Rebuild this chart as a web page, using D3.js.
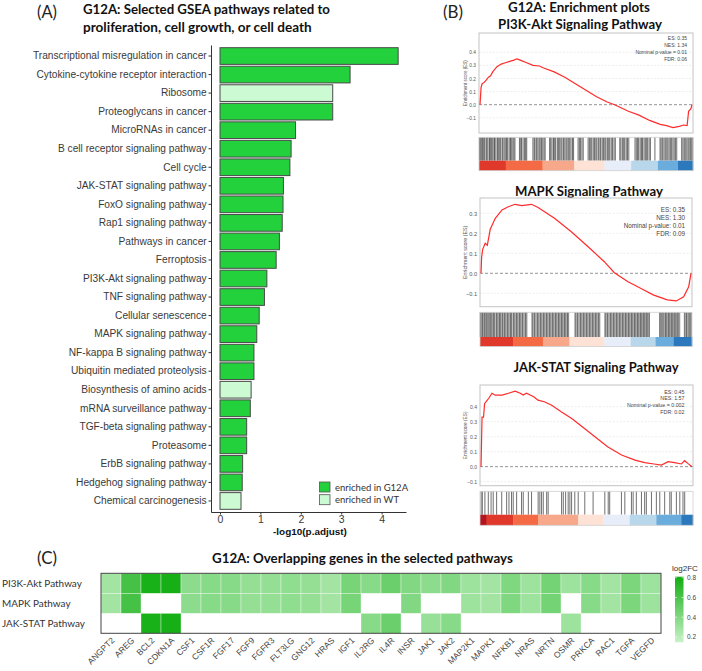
<!DOCTYPE html>
<html><head><meta charset="utf-8">
<script src="https://cdn.jsdelivr.net/npm/d3@7"></script>
<style>body{margin:0;background:#fff}svg{display:block}</style>
</head><body>
<svg id="c" width="702" height="671"></svg>
<script>
// ---------------- DATA ----------------
const pathways = ["Transcriptional misregulation in cancer","Cytokine-cytokine receptor interaction","Ribosome","Proteoglycans in cancer","MicroRNAs in cancer","B cell receptor signaling pathway","Cell cycle","JAK-STAT signaling pathway","FoxO signaling pathway","Rap1 signaling pathway","Pathways in cancer","Ferroptosis","PI3K-Akt signaling pathway","TNF signaling pathway","Cellular senescence","MAPK signaling pathway","NF-kappa B signaling pathway","Ubiquitin mediated proteolysis","Biosynthesis of amino acids","mRNA surveillance pathway","TGF-beta signaling pathway","Proteasome","ErbB signaling pathway","Hedgehog signaling pathway","Chemical carcinogenesis"];
const negLogPadj = [4.41,3.22,2.79,2.79,1.87,1.76,1.73,1.57,1.56,1.54,1.47,1.39,1.16,1.10,0.97,0.91,0.84,0.84,0.77,0.75,0.66,0.66,0.56,0.55,0.52];
const enrichedIn = ["G12A","G12A","WT","G12A","G12A","G12A","G12A","G12A","G12A","G12A","G12A","G12A","G12A","G12A","G12A","G12A","G12A","G12A","WT","G12A","G12A","G12A","G12A","G12A","WT"];
const xTicksA = [0,1,2,3,4];
const legendA = ["enriched in G12A","enriched in WT"];

// GSEA running enrichment score curves: [rank fraction, ES]
const pi3kCurve = [[0,0],[0.005,0.13],[0.01,0.16],[0.02,0.17],[0.03,0.19],[0.04,0.21],[0.05,0.22],[0.06,0.25],[0.08,0.29],[0.10,0.31],[0.12,0.32],[0.14,0.33],[0.16,0.34],[0.174,0.35],[0.19,0.34],[0.22,0.32],[0.25,0.30],[0.28,0.295],[0.30,0.28],[0.35,0.25],[0.40,0.21],[0.45,0.16],[0.50,0.11],[0.55,0.06],[0.60,0.02],[0.635,0.0],[0.70,-0.05],[0.75,-0.08],[0.80,-0.12],[0.85,-0.15],[0.88,-0.16],[0.91,-0.175],[0.94,-0.165],[0.96,-0.155],[0.977,-0.16],[0.984,-0.05],[0.995,-0.03],[1,0]];
const mapkCurve = [[0,0],[0.003,0.08],[0.008,0.12],[0.02,0.15],[0.03,0.14],[0.044,0.22],[0.068,0.275],[0.10,0.317],[0.13,0.333],[0.162,0.345],[0.194,0.338],[0.24,0.345],[0.27,0.33],[0.35,0.275],[0.43,0.208],[0.51,0.133],[0.587,0.058],[0.635,0.003],[0.70,-0.042],[0.76,-0.075],[0.82,-0.108],[0.887,-0.133],[0.93,-0.138],[0.965,-0.117],[0.989,-0.067],[1,0]];
const jakCurve = [[0,0],[0.002,0.13],[0.005,0.33],[0.012,0.33],[0.017,0.42],[0.028,0.44],[0.036,0.455],[0.052,0.49],[0.068,0.477],[0.10,0.477],[0.13,0.49],[0.162,0.504],[0.186,0.49],[0.20,0.478],[0.215,0.49],[0.25,0.467],[0.27,0.444],[0.30,0.433],[0.335,0.41],[0.38,0.367],[0.43,0.322],[0.477,0.27],[0.54,0.20],[0.60,0.133],[0.666,0.078],[0.73,0.044],[0.776,0.027],[0.82,0.018],[0.855,0.011],[0.887,0.033],[0.918,0.027],[0.95,0.018],[0.965,0.04],[0.98,0.022],[1,0]];
const pi3kTicks = [-0.1,0,0.1,0.2,0.3,0.4];
const mapkTicks = [-0.1,0,0.1,0.2,0.3];
const jakTicks = [-0.1,0,0.1,0.2,0.3,0.4];
const pi3kStats = ["ES: 0.35","NES: 1.34","Nominal p-value = 0.01","FDR: 0.06"];
const mapkStats = ["ES: 0.35","NES: 1.30","Nominal p-value: 0.01","FDR: 0.09"];
const jakStats = ["ES: 0.45","NES: 1.57","Nominal p-value = 0.002","FDR: 0.02"];
// gene-set hit positions along the ranked list (per mille)
const pi3kHits = [2,6,11,17,20,26,33,37,42,49,53,58,64,70,73,79,86,90,95,101,108,112,118,125,129,134,141,147,151,158,163,168,189,195,199,206,213,218,223,252,258,262,269,275,281,286,292,298,304,309,330,335,341,348,352,358,366,371,377,383,388,395,401,407,412,419,424,430,437,442,463,469,474,481,487,510,516,522,527,534,540,546,551,558,565,569,576,582,588,593,600,606,611,618,624,631,637,658,663,670,676,681,688,694,700,729,735,741,746,753,759,764,771,777,782,788,795,801,822,846,851,857,864,870,875,882,888,894,899,906,912,918,924,947,953,959,964,971,977,982,988,994,999];
const mapkHits = [1,4,9,12,18,21,27,30,35,41,44,50,53,58,64,67,71,78,81,86,92,95,99,105,108,114,117,122,128,131,136,142,145,149,156,159,164,170,173,178,184,187,192,198,201,207,213,216,221,245,249,255,258,264,270,273,278,284,287,292,298,301,306,312,315,320,326,329,334,340,343,348,354,357,362,368,371,376,382,385,390,396,399,404,410,413,418,448,452,458,461,467,473,476,481,487,490,495,501,504,509,515,518,523,529,532,537,543,546,551,557,560,565,589,593,599,602,608,614,617,622,628,631,636,642,645,650,656,659,664,670,673,678,684,687,692,698,701,706,712,715,720,726,729,734,740,743,748,754,757,762,768,771,776,782,785,790,796,799,847,851,857,860,866,872,875,880,886,889,894,900,903,908,914,917,922,928,931,936,942,964,968,974,977,983,989,992,997];
const jakHits = [5,11,23,39,52,62,78,102,125,136,148,156,172,195,203,227,242,273,281,289,297,313,320,383,391,402,414,422,430,445,461,492,531,586,602,609,664,680,711,719,734,758,773,781,805,828,844,867,891,898,922,938,953,961];
// ranked-list metric strip: block boundaries and colours
const pi3kBreaks = [0,0.125,0.297,0.445,0.586,0.711,0.836,0.93,1];
const mapkBreaks = [0,0.156,0.297,0.422,0.586,0.711,0.828,0.914,1];
const jakBreaks = [0,0.031,0.156,0.273,0.461,0.578,0.703,0.828,0.945,1];
const stripColors8 = ["#e0392b","#f46a45","#f8a88a","#fde2d5","#e8eef9","#b8d7ea","#6aaddc","#2b78bd"];
const stripColors9 = ["#b3141e","#e0392b","#f46a45","#f8a88a","#fde2d5","#e8eef9","#b8d7ea","#6aaddc","#2b78bd"];

// heatmap
const genes = ["ANGPT2","AREG","BCL2","CDKN1A","CSF1","CSF1R","FGF17","FGF9","FGFR3","FLT3LG","GNG12","HRAS","IGF1","IL2RG","IL4R","INSR","JAK1","JAK2","MAP2K1","MAPK1","NFKB1","NRAS","NRTN","OSMR","PRKCA","RAC1","TGFA","VEGFD"];
const hmRows = ["PI3K-Akt Pathway","MAPK Pathway","JAK-STAT Pathway"];
const pi3kFC = [0.28,0.62,0.78,0.79,0.36,0.38,0.38,0.33,0.33,0.35,0.33,0.28,0.44,0.38,0.48,0.40,0.36,0.40,0.30,0.28,0.41,0.30,0.45,0.30,0.38,0.28,0.42,0.30];
const mapkFC = [0.28,0.62,null,null,0.36,0.38,0.38,0.33,0.33,0.35,0.33,0.28,0.44,null,null,0.40,null,null,0.30,0.28,0.41,0.30,0.45,null,0.38,0.28,0.42,0.30];
const jakFC  = [null,null,0.78,0.79,null,null,null,null,null,null,null,null,null,0.38,0.48,null,0.32,0.38,null,null,null,null,null,0.30,null,null,null,null];
const fcLegendTicks = [0.2,0.4,0.6,0.8];

// ---------------- DRAW ----------------
const svg = d3.select("#c");
function fit(t, w){ const fs=parseFloat(t.attr("font-size")); const l=t.node().getComputedTextLength(); t.attr("font-size", fs*w/l); return t; }
const calib = "Lato, 'Open Sans', sans-serif";
const arial = "'Liberation Sans', Arial, sans-serif";

// ===== Panel A =====
fit(svg.append("text").attr("x",37).attr("y",18).attr("font-family",calib).attr("font-size",17).attr("fill","#222").text("(A)"),20);
fit(svg.append("text").attr("x",83).attr("y",13.5).attr("font-family",calib).attr("font-weight","bold").attr("font-size",15).attr("fill","#111").text("G12A: Selected GSEA pathways related to"),247);
fit(svg.append("text").attr("x",83).attr("y",31.5).attr("font-family",calib).attr("font-weight","bold").attr("font-size",15).attr("fill","#111").text("proliferation, cell growth, or cell death"),229);

const yA = d3.scaleBand().domain(pathways).range([45,512]).paddingInner(0.1).paddingOuter(0.145);
const xA = d3.scaleLinear().domain([-0.223,4.604]).range([211,406]);
const colA = {G12A:"#22d13c", WT:"#ccfad3"};

const gA = svg.append("g");
gA.selectAll("rect.bar").data(pathways).join("rect").attr("class","bar")
  .attr("x",xA(0)).attr("y",d=>yA(d)).attr("height",yA.bandwidth())
  .attr("width",(d,i)=>xA(negLogPadj[i])-xA(0))
  .attr("fill",(d,i)=>colA[enrichedIn[i]]).attr("stroke","#4a4a4a").attr("stroke-width",1);

const axY = gA.append("g").attr("transform","translate(211,0)").call(d3.axisLeft(yA).tickSize(2.5).tickPadding(1.8).tickSizeOuter(0));
axY.select(".domain").attr("stroke","#333");
axY.selectAll(".tick line").attr("stroke","#333");
axY.selectAll("text").attr("font-family",arial).attr("fill","#3a3a3a").attr("font-size",10);
{ const t = axY.select(".tick text"); const l=t.node().getComputedTextLength(); axY.selectAll("text").attr("font-size",10*174/l); }

const axX = gA.append("g").attr("transform","translate(0,512)").call(d3.axisBottom(xA).tickValues(xTicksA).tickFormat(d3.format("d")).tickSize(2.5).tickPadding(1.5).tickSizeOuter(0));
axX.select(".domain").attr("stroke","#333");
axX.selectAll(".tick line").attr("stroke","#333");
axX.selectAll("text").attr("font-family",arial).attr("fill","#3a3a3a").attr("font-size",10.5);
fit(svg.append("text").attr("x",310).attr("y",535).attr("text-anchor","middle").attr("font-family",arial).attr("font-weight","bold").attr("font-size",10.5).attr("fill","#111").text("-log10(p.adjust)"),74);

const lgA = svg.append("g");
lgA.selectAll("rect").data(legendA).join("rect").attr("x",319.5).attr("y",(d,i)=>482+i*12.7).attr("width",10.5).attr("height",10).attr("fill",(d,i)=>i?colA.WT:colA.G12A).attr("stroke","#555").attr("stroke-width",0.8);
lgA.selectAll("text").data(legendA).join("text").attr("x",335).attr("y",(d,i)=>490.5+i*12.7).attr("font-family",calib).attr("font-size",9.5).attr("fill","#333").text(d=>d);

// ===== Panel B =====
fit(svg.append("text").attr("x",443).attr("y",18).attr("font-family",calib).attr("font-size",17).attr("fill","#222").text("(B)"),20);
fit(svg.append("text").attr("x",579).attr("y",11.5).attr("text-anchor","middle").attr("font-family",calib).attr("font-weight","bold").attr("font-size",15).attr("fill","#111").text("G12A: Enrichment plots"),142);

function gsea(cfg){
  const g = svg.append("g");
  fit(g.append("text").attr("x",cfg.titleX).attr("y",cfg.titleY).attr("text-anchor","middle").attr("font-family",calib).attr("font-weight","bold").attr("font-size",15).attr("fill","#111").text(cfg.title),cfg.titleW);
  const [x0,x1,y0,y1] = cfg.box;
  const x = d3.scaleLinear().domain([0,1]).range([x0+1,x1-1]);
  const y = d3.scaleLinear().domain(cfg.domain).range([y1,y0]);
  g.selectAll("line.grid").data(cfg.ticks.filter(v=>v!==0)).join("line").attr("class","grid")
    .attr("x1",x0).attr("x2",x1).attr("y1",d=>y(d)).attr("y2",d=>y(d))
    .attr("stroke","#dcdcdc").attr("stroke-width",0.5).attr("stroke-dasharray","2,1.5");
  g.append("line").attr("x1",x0).attr("x2",x1).attr("y1",y(0)).attr("y2",y(0)).attr("stroke","#777").attr("stroke-width",0.8).attr("stroke-dasharray","3,2");
  g.append("rect").attr("x",x0).attr("y",y0).attr("width",x1-x0).attr("height",y1-y0).attr("fill","none").attr("stroke","#c4c4c4").attr("stroke-width",1);
  const ay = g.append("g").attr("transform",`translate(${x0},0)`).call(d3.axisLeft(y).tickValues(cfg.ticks).tickFormat(d3.format(".1f")).tickSize(0).tickPadding(3));
  ay.select(".domain").remove();
  ay.selectAll("text").attr("font-family",arial).attr("font-size",cfg.tickFs).attr("fill","#555");
  g.append("text").attr("transform",`translate(${cfg.yTitleX},${(y0+y1)/2}) rotate(-90)`).attr("text-anchor","middle")
    .attr("font-family",arial).attr("font-size",cfg.tickFs*0.95).attr("fill","#555").text("Enrichment score (ES)");
  g.append("path").datum(cfg.curve).attr("fill","none").attr("stroke","#ff2b2b").attr("stroke-width",1.2)
    .attr("d",d3.line().x(d=>x(d[0])).y(d=>y(d[1])));
  g.selectAll("text.st").data(cfg.stats).join("text").attr("class","st")
    .attr("x",cfg.statX).attr("y",(d,i)=>cfg.statY+i*cfg.statDy).attr("text-anchor","end")
    .attr("font-family",arial).attr("font-size",cfg.statFs).attr("fill","#444").text(d=>d);
  const [b0,bs,b1] = cfg.bar;
  const xb = d3.scaleLinear().domain([0,1000]).range([x0,x1]);
  g.selectAll("line.hit").data(cfg.hits).join("line").attr("class","hit")
    .attr("x1",d=>xb(d)).attr("x2",d=>xb(d)).attr("y1",b0).attr("y2",bs)
    .attr("stroke","#111").attr("stroke-opacity",cfg.hitOp).attr("stroke-width",cfg.hitW);
  const xs = d3.scaleLinear().domain([0,1]).range([x0,x1]);
  g.selectAll("rect.strip").data(cfg.stripColors).join("rect").attr("class","strip")
    .attr("x",(d,i)=>xs(cfg.breaks[i])).attr("width",(d,i)=>xs(cfg.breaks[i+1])-xs(cfg.breaks[i])+0.3)
    .attr("y",bs).attr("height",b1-bs).attr("fill",d=>d);
  g.append("rect").attr("x",x0).attr("y",b0).attr("width",x1-x0).attr("height",b1-b0).attr("fill","none").attr("stroke","#cfcfcf").attr("stroke-width",0.8);
}

gsea({title:"PI3K-Akt Signaling Pathway",titleX:580,titleY:28.5,titleW:164,box:[479,693,33,133],domain:[-0.216,0.547],ticks:pi3kTicks,tickFs:4.8,yTitleX:467,
  curve:pi3kCurve,stats:pi3kStats,statX:687,statY:40,statDy:7,statFs:5,hits:pi3kHits,hitOp:0.72,hitW:0.85,bar:[137.3,160.7,170.7],breaks:pi3kBreaks,stripColors:stripColors8});
gsea({title:"MAPK Signaling Pathway",titleX:589,titleY:195.7,titleW:148,box:[480,692,198,306.7],domain:[-0.167,0.3765],ticks:mapkTicks,tickFs:5.6,yTitleX:467,
  curve:mapkCurve,stats:mapkStats,statX:685,statY:211.5,statDy:8,statFs:6.3,hits:mapkHits,hitOp:0.7,hitW:0.75,bar:[312.3,337,346.5],breaks:mapkBreaks,stripColors:stripColors8});
gsea({title:"JAK-STAT Signaling Pathway",titleX:596,titleY:371.7,titleW:165,box:[480,693,385,485.7],domain:[-0.127,0.545],ticks:jakTicks,tickFs:5,yTitleX:467,
  curve:jakCurve,stats:jakStats,statX:684.5,statY:393.6,statDy:6.8,statFs:5.3,hits:jakHits,hitOp:0.6,hitW:1,bar:[491.3,514.7,525.3],breaks:jakBreaks,stripColors:stripColors9});

// ===== Panel C =====
fit(svg.append("text").attr("x",37).attr("y",564).attr("font-family",calib).attr("font-size",17).attr("fill","#222").text("(C)"),20);
fit(svg.append("text").attr("x",212).attr("y",562.5).attr("font-family",calib).attr("font-weight","bold").attr("font-size",14).attr("fill","#111").text("G12A: Overlapping genes in the selected pathways"),301);

const xC = d3.scaleBand().domain(genes).range([101,661]);
const yC = d3.scaleBand().domain(hmRows).range([573.3,633.3]);
const fcCol = d3.scaleLinear().domain([0.146,0.81]).range(["#c8f2c8","#10ae10"]).interpolate(d3.interpolateRgb);
const fcRows = [pi3kFC,mapkFC,jakFC];
const cells = [];
hmRows.forEach((r,ri)=>genes.forEach((gname,gi)=>{ const v=fcRows[ri][gi]; if(v!==null) cells.push({r,g:gname,v}); }));
const gC = svg.append("g");
gC.selectAll("rect.cell").data(cells).join("rect").attr("class","cell")
  .attr("x",d=>xC(d.g)).attr("y",d=>yC(d.r)).attr("width",xC.bandwidth()).attr("height",yC.bandwidth())
  .attr("fill",d=>fcCol(d.v)).attr("stroke","#ffffff").attr("stroke-width",0.6).attr("stroke-opacity",0.6);
gC.append("rect").attr("x",101).attr("y",573.3).attr("width",560).attr("height",60).attr("fill","none").attr("stroke","#444").attr("stroke-width",1);
const rl = gC.selectAll("text.rl").data(hmRows).join("text").attr("class","rl").attr("x",2).attr("y",d=>yC(d)+yC.bandwidth()/2+4)
  .attr("font-family",calib).attr("font-size",11).attr("fill","#333").text(d=>d);
{ const l = rl.node().getComputedTextLength(); rl.attr("font-size",11*80/l); }
gC.selectAll("text.gl").data(genes).join("text").attr("class","gl")
  .attr("transform",d=>`translate(${xC(d)+xC.bandwidth()/2+4},641) rotate(-45)`).attr("text-anchor","end")
  .attr("font-family",arial).attr("font-size",8.5).attr("fill","#444").text(d=>d);

// legend
const defs = svg.append("defs");
const grad = defs.append("linearGradient").attr("id","fcg").attr("x1",0).attr("y1",1).attr("x2",0).attr("y2",0);
grad.append("stop").attr("offset",0).attr("stop-color",fcCol(0.146));
grad.append("stop").attr("offset",1).attr("stop-color",fcCol(0.81));
const yL = d3.scaleLinear().domain([0.146,0.81]).range([642.3,576.7]);
svg.append("rect").attr("x",675).attr("y",576.7).attr("width",8.5).attr("height",65.6).attr("fill","url(#fcg)");
svg.selectAll("line.lt").data(fcLegendTicks).join("line").attr("class","lt").attr("x1",675).attr("x2",677).attr("y1",d=>yL(d)).attr("y2",d=>yL(d)).attr("stroke","#fff").attr("stroke-width",0.6);
svg.selectAll("line.lt2").data(fcLegendTicks).join("line").attr("class","lt2").attr("x1",681.5).attr("x2",683.5).attr("y1",d=>yL(d)).attr("y2",d=>yL(d)).attr("stroke","#fff").attr("stroke-width",0.6);
svg.selectAll("text.lg").data(fcLegendTicks).join("text").attr("class","lg").attr("x",687).attr("y",d=>yL(d)+2.3)
  .attr("font-family",arial).attr("font-size",6.5).attr("fill","#444").text(d3.format(".1f"));
svg.append("text").attr("x",672).attr("y",571).attr("font-family",arial).attr("font-size",8).attr("fill","#333").text("log2FC");
</script>
</body></html>
